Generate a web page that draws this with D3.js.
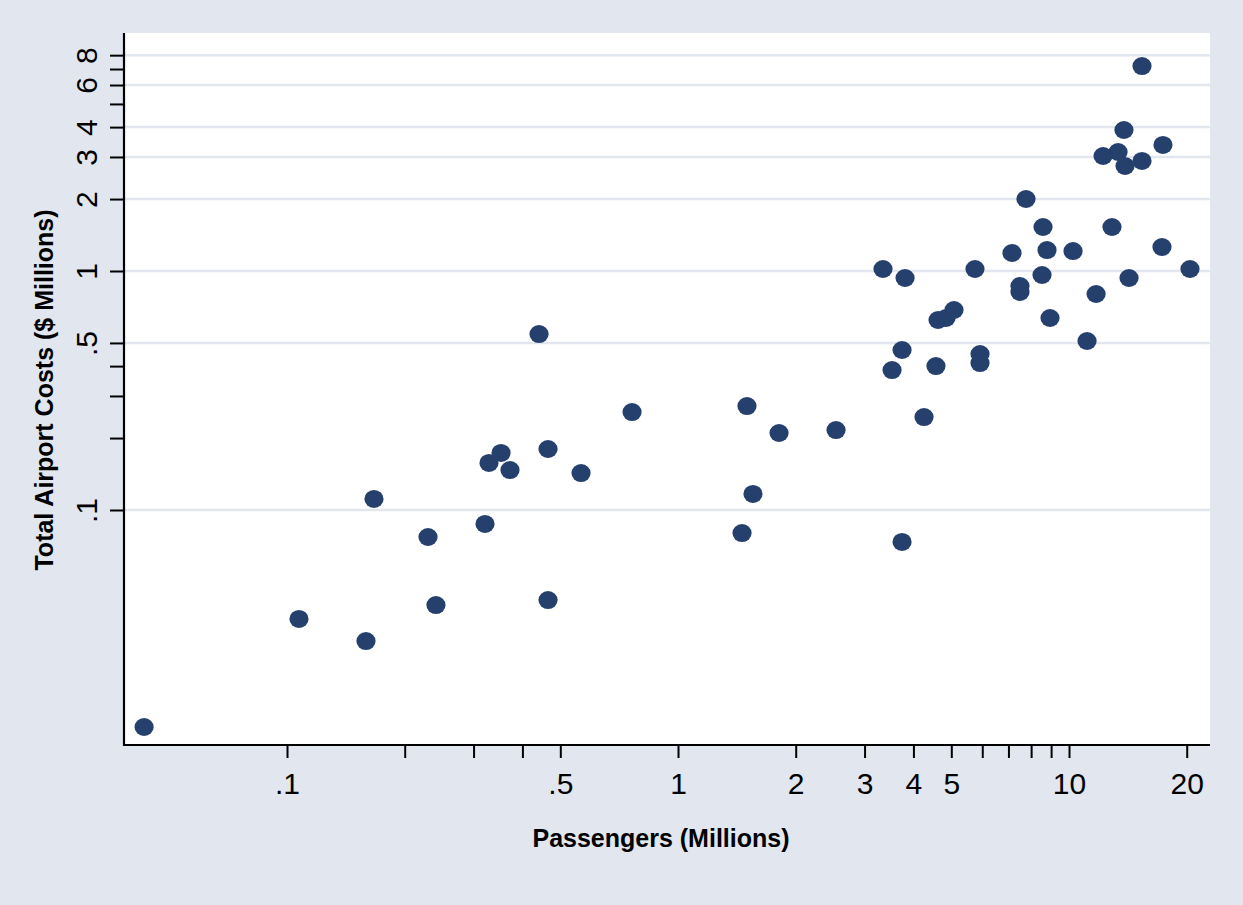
<!DOCTYPE html>
<html>
<head>
<meta charset="utf-8">
<script src="https://cdn.jsdelivr.net/npm/d3@7"></script>
<style>
  html, body { margin: 0; padding: 0; background: #e1e6ef; }
  svg { display: block; }
  text { font-family: "Liberation Sans", Arial, Helvetica, sans-serif; fill: #000; }
</style>
</head>
<body>
<svg id="chart" width="1243" height="905"></svg>
<script>
// ---- Data (passengers in millions, total airport costs in $ millions) ----
const passengers = [
  0.0431, 0.1073, 0.1592, 0.1669, 0.2294, 0.2404, 0.3209, 0.3285, 0.3526, 0.3718,
  0.4411, 0.4651, 0.4651, 0.5649, 0.7629, 1.458, 1.501, 1.555, 1.813, 2.536,
  3.344, 3.527, 3.741, 3.741, 3.808, 4.258, 4.568, 4.624, 4.847, 5.080,
  5.748, 5.921, 5.921, 7.148, 7.492, 7.492, 7.762, 8.530, 8.581, 8.785,
  8.942, 10.24, 11.12, 11.73, 12.22, 12.88, 13.35, 13.82, 13.91, 14.24,
  15.37, 15.37, 17.29, 17.39, 20.39
];
const costs = [
  0.01236, 0.0350, 0.0283, 0.1112, 0.0771, 0.0400, 0.0874, 0.1573, 0.1732, 0.1470,
  0.5449, 0.1800, 0.0420, 0.1428, 0.2570, 0.0801, 0.2723, 0.1167, 0.2100, 0.2161,
  1.0195, 0.3852, 0.4671, 0.0735, 0.9348, 0.2449, 0.4003, 0.6237, 0.6358, 0.6868,
  1.0195, 0.4495, 0.4121, 1.1894, 0.8655, 0.8168, 2.001, 0.9622, 1.528, 1.224,
  0.6358, 1.212, 0.5095, 0.8012, 3.028, 1.528, 3.147, 3.890, 2.750, 0.9348,
  2.886, 7.205, 1.260, 3.367, 1.0195
];

const xMajorTicks = [0.1, 0.5, 1, 2, 3, 4, 5, 10, 20];
const xMajorLabels = [".1", ".5", "1", "2", "3", "4", "5", "10", "20"];
const xMinorTicks = [0.2, 0.3, 0.4, 6, 7, 8, 9];
const yMajorTicks = [0.1, 0.5, 1, 2, 3, 4, 6, 8];
const yMajorLabels = [".1", ".5", "1", "2", "3", "4", "6", "8"];
const yMinorTicks = [0.2, 0.3, 0.4, 5, 7];

const xTitle = "Passengers (Millions)";
const yTitle = "Total Airport Costs ($ Millions)";

// ---- Layout ----
const W = 1243, H = 905;
const plot = { left: 124, right: 1210, top: 33, bottom: 745 };
const markerColor = "#26406e";
const bgColor = "#e1e6ef";

const svg = d3.select("#chart");

svg.append("rect").attr("x", 0).attr("y", 0).attr("width", W).attr("height", H)
  .attr("fill", bgColor);

svg.append("rect")
  .attr("x", plot.left).attr("y", plot.top)
  .attr("width", plot.right - plot.left).attr("height", plot.bottom - plot.top)
  .attr("fill", "#ffffff");

const x = d3.scaleLog().domain([0.03829, 22.94]).range([plot.left, plot.right]);
const y = d3.scaleLog().domain([0.010393, 9.904]).range([plot.bottom, plot.top]);

// gridlines
svg.append("g").selectAll("line").data(yMajorTicks).join("line")
  .attr("x1", plot.left).attr("x2", plot.right)
  .attr("y1", d => y(d)).attr("y2", d => y(d))
  .attr("stroke", bgColor).attr("stroke-width", 2.5);

// points
svg.append("g").selectAll("ellipse").data(passengers.map((p, i) => [p, costs[i]])).join("ellipse")
  .attr("cx", d => x(d[0])).attr("cy", d => y(d[1]))
  .attr("rx", 9.6).attr("ry", 9)
  .attr("fill", markerColor);

// x axis
const xAxisG = svg.append("g").attr("transform", `translate(0,${plot.bottom})`);
xAxisG.call(d3.axisBottom(x).tickValues(xMajorTicks).tickSize(13).tickPadding(10)
  .tickFormat((d, i) => xMajorLabels[i]));
xAxisG.append("g").call(d3.axisBottom(x).tickValues(xMinorTicks).tickSize(13).tickFormat(""))
  .select(".domain").remove();

// y axis
const yAxisG = svg.append("g").attr("transform", `translate(${plot.left},0)`);
yAxisG.call(d3.axisLeft(y).tickValues(yMajorTicks).tickSize(14)
  .tickFormat((d, i) => yMajorLabels[i]));
yAxisG.append("g").call(d3.axisLeft(y).tickValues(yMinorTicks).tickSize(14).tickFormat(""))
  .select(".domain").remove();

[xAxisG, yAxisG].forEach(g => {
  g.selectAll(".domain").attr("stroke", "#000").attr("stroke-width", 2.2);
  g.selectAll(".tick line").attr("stroke", "#000").attr("stroke-width", 2);
});
xAxisG.select(".domain").attr("d", `M${plot.left - 1},0H${plot.right}`);
yAxisG.select(".domain").attr("d", `M0,${plot.top}V${plot.bottom + 1}`);

xAxisG.selectAll(".tick text")
  .attr("y", 49).attr("dy", 0)
  .style("font-size", "30px").style("font-family", "'Liberation Sans', Arial, sans-serif")
  .attr("fill", "#000");

yAxisG.selectAll(".tick text")
  .attr("x", 0).attr("y", 0).attr("dy", 0)
  .attr("text-anchor", "middle")
  .attr("transform", "translate(-27,0) rotate(-90)")
  .style("font-size", "30px").style("font-family", "'Liberation Sans', Arial, sans-serif")
  .attr("fill", "#000");

// titles
svg.append("text")
  .attr("x", 661).attr("y", 847)
  .attr("text-anchor", "middle")
  .style("font-size", "25px").style("font-weight", "bold")
  .text(xTitle);

svg.append("text")
  .attr("transform", "translate(53,390) rotate(-90)")
  .attr("text-anchor", "middle")
  .style("font-size", "25px").style("font-weight", "bold")
  .text(yTitle);
</script>
</body>
</html>
